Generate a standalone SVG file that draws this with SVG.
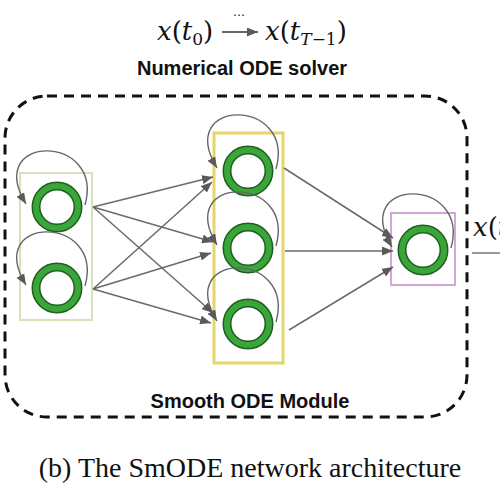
<svg xmlns="http://www.w3.org/2000/svg" xmlns:xlink="http://www.w3.org/1999/xlink" width="500" height="500" viewBox="0 0 500 500">
<style>
.ringo{fill:#fff;stroke:#1f5f1f;stroke-width:9}
.ringi{fill:none;stroke:#3aa63a;stroke-width:6}
.edge{stroke:#6a6a6a;stroke-width:1.5;fill:none;marker-end:url(#ah)}
.loop{stroke:#666;stroke-width:1.4;fill:none;marker-end:url(#ah)}
.bold{font-family:"Liberation Sans",Arial,sans-serif;font-weight:bold;font-size:20px;fill:#111}
.math{font-family:"DejaVu Serif",serif;font-size:26px;fill:#111}
.it{font-style:italic}
</style>
<defs>
<marker id="ah" markerUnits="userSpaceOnUse" markerWidth="12" markerHeight="9" refX="11" refY="4.5" orient="auto">
<path d="M0,0 L11,4.5 L0,9 z" fill="#5a5a5a"/>
</marker>
<path id="sl" d="M28,-2 C48,-74 -74,-74 -31,-3" class="loop"/>
</defs>
<rect width="500" height="500" fill="#fff"/>

<g id="solver-label">
<text class="math" x="157" y="40"><tspan class="it">x</tspan>(<tspan class="it">t</tspan><tspan font-size="17" dy="5">0</tspan><tspan dy="-5">)</tspan></text>
<text x="239" y="16" font-family="DejaVu Sans,sans-serif" font-size="12" text-anchor="middle" fill="#111">…</text>
<line x1="222" y1="32" x2="258" y2="32" stroke="#333" stroke-width="1.5" marker-end="url(#ah)"/>
<text class="math" x="265" y="40"><tspan class="it">x</tspan>(<tspan class="it">t</tspan><tspan font-size="17" dy="5" class="it">T</tspan><tspan font-size="17">−1</tspan><tspan dy="-5">)</tspan></text>
<text class="bold" x="242" y="75" text-anchor="middle">Numerical ODE solver</text>
</g>

<g id="module">
<rect x="5" y="96" width="462" height="321" rx="42" ry="42" fill="none" stroke="#111" stroke-width="3" stroke-dasharray="10,7"/>
<text class="bold" x="250" y="408" text-anchor="middle">Smooth ODE Module</text>
</g>

<g id="input-layer">
<rect x="20" y="173" width="72" height="147" fill="none" stroke="#d6e3b8" stroke-width="2"/>
<g id="in1"><circle class="ringo" cx="57" cy="207" r="21"/><circle class="ringi" cx="57" cy="207" r="21"/></g>
<g id="in2"><circle class="ringo" cx="57" cy="288" r="21"/><circle class="ringi" cx="57" cy="288" r="21"/></g>
</g>

<g id="hidden-layer">
<rect x="214" y="133" width="69" height="230" fill="none" stroke="#e6d56a" stroke-width="3"/>
<g id="h1"><circle class="ringo" cx="248" cy="171" r="21"/><circle class="ringi" cx="248" cy="171" r="21"/></g>
<g id="h2"><circle class="ringo" cx="248" cy="248" r="21"/><circle class="ringi" cx="248" cy="248" r="21"/></g>
<g id="h3"><circle class="ringo" cx="248" cy="324" r="21"/><circle class="ringi" cx="248" cy="324" r="21"/></g>
</g>

<g id="output-layer">
<rect x="391" y="213" width="64" height="72" fill="none" stroke="#d2a6d6" stroke-width="2"/>
<g id="out"><circle class="ringo" cx="423" cy="250" r="21"/><circle class="ringi" cx="423" cy="250" r="21"/></g>
</g>

<g id="connectors">
<use xlink:href="#sl" x="57" y="207"/>
<use xlink:href="#sl" x="57" y="288"/>
<use xlink:href="#sl" x="248" y="171"/>
<use xlink:href="#sl" x="248" y="248"/>
<use xlink:href="#sl" x="248" y="324"/>
<use xlink:href="#sl" x="423" y="250"/>
<line class="edge" x1="93" y1="207" x2="213" y2="177"/>
<line class="edge" x1="93" y1="207" x2="213" y2="242"/>
<line class="edge" x1="93" y1="207" x2="213" y2="313"/>
<line class="edge" x1="93" y1="289" x2="212" y2="182"/>
<line class="edge" x1="93" y1="289" x2="211" y2="253"/>
<line class="edge" x1="93" y1="289" x2="211" y2="323"/>
<line class="edge" x1="284" y1="168" x2="393" y2="238"/>
<line class="edge" x1="285" y1="251" x2="393" y2="251"/>
<line class="edge" x1="289" y1="330" x2="393" y2="267"/>
<line x1="472" y1="253" x2="500" y2="253" stroke="#777" stroke-width="1.5"/>
<text class="math" x="473" y="236" font-size="19"><tspan class="it">x</tspan>(<tspan class="it">t</tspan></text>
</g>

<text x="250" y="477" font-family="Liberation Serif,Times New Roman,serif" font-size="28" text-anchor="middle" fill="#111">(b) The SmODE network architecture</text>
</svg>
